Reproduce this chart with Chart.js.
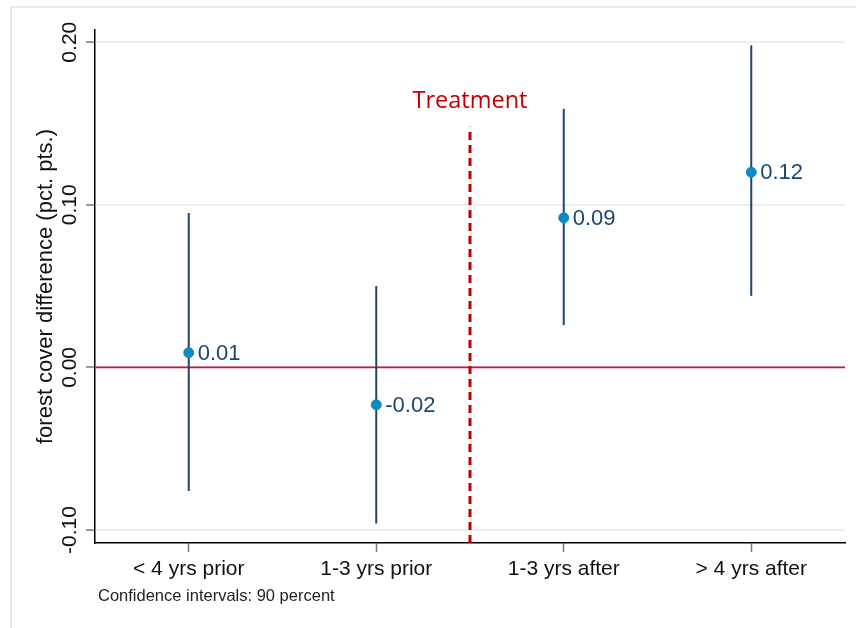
<!DOCTYPE html>
<html>
<head>
<meta charset="utf-8">
<script src="https://cdn.jsdelivr.net/npm/chart.js@4.4.1/dist/chart.umd.min.js"></script>
<style>
  html, body { margin: 0; padding: 0; background: #fff; }
  #wrap { width: 856px; height: 628px; position: relative; }
</style>
</head>
<body>
<div id="wrap"><canvas id="coefChart" width="856" height="628"></canvas></div>
<script>
// categories and estimates
const categories = ['< 4 yrs prior', '1-3 yrs prior', '1-3 yrs after', '> 4 yrs after'];
const estimates = [0.009, -0.023, 0.092, 0.120];
const ciLow = [-0.076, -0.096, 0.026, 0.044];
const ciHigh = [0.095, 0.050, 0.159, 0.198];
const valueLabels = ['0.01', '-0.02', '0.09', '0.12'];
const yTicks = [-0.10, 0.00, 0.10, 0.20];
const yTickLabels = ['-0.10', '0.00', '0.10', '0.20'];
const treatmentX = 2.5;
const treatmentTop = 0.148;
const yMin = -0.108, yMax = 0.2075;

const FONT = 'Arial, "Liberation Sans", sans-serif';
const navy = '#1a476f';
const dotBlue = '#0b8bc2';

/* ── datasets ─────────────────────────────── */
const ciSets = categories.map((c, i) => ({
    type: 'line',
    data: [{ x: i + 1, y: ciLow[i] }, { x: i + 1, y: ciHigh[i] }],
    borderColor: navy,
    borderWidth: 2,
    pointRadius: 0,
    order: 2
}));

const datasets = [
    {
        type: 'line',
        label: 'zero',
        data: [{ x: 0.5, y: 0 }, { x: 4.5, y: 0 }],
        borderColor: '#c8123f',
        borderWidth: 1.6,
        pointRadius: 0,
        order: 4
    },
    {
        type: 'line',
        label: 'treatment',
        data: [{ x: treatmentX, y: yMin }, { x: treatmentX, y: treatmentTop }],
        borderColor: '#c00000',
        borderWidth: 3,
        borderDash: [8, 5],
        pointRadius: 0,
        order: 3
    },
    ...ciSets,
    {
        type: 'scatter',
        label: 'coef',
        data: estimates.map((v, i) => ({ x: i + 1, y: v })),
        backgroundColor: dotBlue,
        borderColor: dotBlue,
        pointRadius: 5,
        order: 1
    }
];

/* ── extra text: y ticks, axis title, value labels, notes ── */
const decorations = {
    id: 'decorations',
    beforeDraw(chart) {
        const ctx = chart.ctx;
        ctx.save();
        ctx.strokeStyle = '#e4ecf0';
        ctx.lineWidth = 2;
        ctx.strokeRect(11, 7, 900, 700);
        ctx.restore();
    },
    afterDraw(chart) {
        const ctx = chart.ctx;
        const y = chart.scales.y;
        const x = chart.scales.x;
        const meta = chart.getDatasetMeta(datasets.length - 1);
        ctx.save();

        // rotated y tick labels
        ctx.fillStyle = '#111';
        ctx.font = '21px ' + FONT;
        ctx.textAlign = 'center';
        ctx.textBaseline = 'middle';
        yTicks.forEach((t, i) => {
            ctx.save();
            ctx.translate(70, y.getPixelForValue(t));
            ctx.rotate(-Math.PI / 2);
            ctx.fillText(yTickLabels[i], 0, 0);
            ctx.restore();
        });

        // axis title
        ctx.save();
        ctx.font = '22px ' + FONT;
        ctx.translate(46, (chart.chartArea.top + chart.chartArea.bottom) / 2);
        ctx.rotate(-Math.PI / 2);
        ctx.fillText('forest cover difference (pct. pts.)', 0, 0);
        ctx.restore();

        // value labels next to the dots
        ctx.font = '22px ' + FONT;
        ctx.fillStyle = navy;
        ctx.textAlign = 'left';
        meta.data.forEach((pt, i) => {
            ctx.fillText(valueLabels[i], pt.x + 9, pt.y + 1);
        });

        // treatment label
        ctx.font = '23.5px "Open Sans", sans-serif';
        ctx.fillStyle = '#c00000';
        ctx.textAlign = 'center';
        ctx.fillText('Treatment', x.getPixelForValue(treatmentX), 101);

        // note
        ctx.font = '16.5px ' + FONT;
        ctx.fillStyle = '#222';
        ctx.textAlign = 'left';
        ctx.fillText('Confidence intervals: 90 percent', 98, 596);
        ctx.restore();
    }
};

new Chart(document.getElementById('coefChart'), {
    data: { datasets },
    options: {
        responsive: false,
        animation: false,
        layout: { padding: { top: 30, right: 11, left: 0, bottom: 0 } },
        plugins: { legend: { display: false }, tooltip: { enabled: false } },
        scales: {
            x: {
                type: 'linear',
                min: 0.5,
                max: 4.5,
                afterFit: s => { s.height = 85; },
                afterBuildTicks: s => { s.ticks = categories.map((c, i) => ({ value: i + 1 })); },
                grid: { drawOnChartArea: false, drawTicks: true, tickLength: 9, tickColor: '#777', tickWidth: 1.5 },
                border: { color: '#000', width: 1.5 },
                ticks: {
                    font: { family: FONT, size: 21 },
                    color: '#111',
                    padding: 5,
                    maxRotation: 0,
                    autoSkip: false,
                    callback: v => categories[v - 1]
                }
            },
            y: {
                type: 'linear',
                min: yMin,
                max: yMax,
                afterFit: s => { s.width = 95; },
                afterBuildTicks: s => { s.ticks = yTicks.map(v => ({ value: v })); },
                grid: { color: '#e9f0f2', lineWidth: 2, drawTicks: true, tickLength: 9, tickColor: '#777', tickWidth: 1.5 },
                border: { color: '#000', width: 1.5 },
                ticks: { display: false }
            }
        }
    },
    plugins: [decorations]
});
</script>
</body>
</html>
